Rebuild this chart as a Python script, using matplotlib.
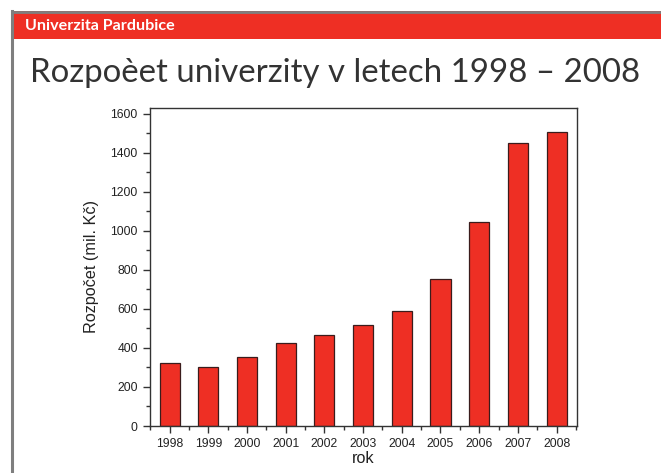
import matplotlib.pyplot as plt
from matplotlib.lines import Line2D
from matplotlib.patches import Rectangle
from matplotlib.ticker import MultipleLocator

roky = ['1998', '1999', '2000', '2001', '2002', '2003', '2004', '2005', '2006', '2007', '2008']
rozpocet = [321, 304, 352, 425, 466, 520, 590, 755, 1045, 1453, 1509]

red = '#ee2f24'
W, H = 661, 473

fig = plt.figure(figsize=(6.61, 4.73), dpi=100)

# header strip and grey frame (top + left only)
fig.add_artist(Rectangle((12 / W, 1 - 39 / H), 1, 28 / H, transform=fig.transFigure,
                         facecolor=red, edgecolor='none'))
fig.add_artist(Line2D([12 / W, 1], [1 - 12 / H, 1 - 12 / H], transform=fig.transFigure,
                      color='#7f7f7f', lw=2))
fig.add_artist(Line2D([12 / W, 12 / W], [0, 1 - 11 / H], transform=fig.transFigure,
                      color='#7f7f7f', lw=2.2))
fig.text(25 / W, 1 - 26 / H, 'Univerzita Pardubice', color='white', fontsize=11.6,
         fontweight='bold', family='Lato', va='center', ha='left')
fig.text(30 / W, 1 - 73 / H, 'Rozpoèet univerzity v letech 1998 – 2008', color='#333333',
         fontsize=23.8, fontweight='normal', family='Lato', va='center', ha='left')

ax = fig.add_axes([149.5 / W, 1 - 426 / H, (576.7 - 149.5) / W, (426 - 107.7) / H])
x = range(len(roky))
ax.bar(x, rozpocet, width=0.52, color=red, edgecolor='#3a1c1c', linewidth=0.9)

ax.set_xlim(-0.52, 10.52)
ax.set_ylim(0, 1632)
ax.set_xticks(list(x))
ax.set_xticklabels(roky)
ax.xaxis.set_minor_locator(MultipleLocator(0.5))
ax.yaxis.set_major_locator(MultipleLocator(200))
ax.yaxis.set_minor_locator(MultipleLocator(100))
ax.tick_params(axis='both', which='major', direction='out', length=5, width=1,
               labelsize=8.7, color='#333333', labelcolor='#222222')
ax.tick_params(axis='both', which='minor', direction='out', length=3, width=1, color='#333333')
ax.tick_params(top=False, right=False, which='both')
for s in ax.spines.values():
    s.set_color('#333333')
    s.set_linewidth(1)

for lab in ax.get_xticklabels() + ax.get_yticklabels():
    lab.set_family('Liberation Sans')

ax.set_xlabel('rok', fontsize=11.7, family='Liberation Sans', labelpad=1, color='#222222')
ax.set_ylabel('Rozpočet (mil. Kč)', fontsize=11.7, family='Liberation Sans', labelpad=8, color='#222222')

fig.savefig('out.png', dpi=100)
